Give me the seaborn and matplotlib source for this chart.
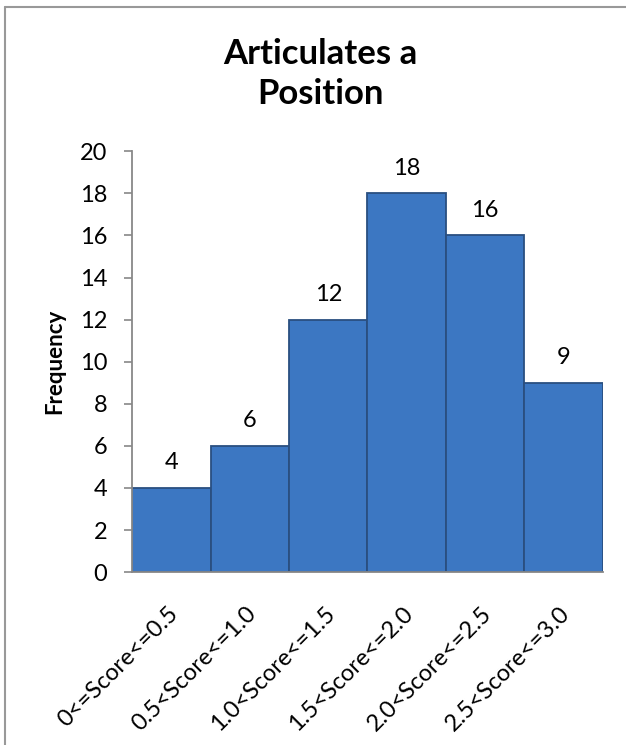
import matplotlib
matplotlib.use("Agg")
import matplotlib.pyplot as plt
import matplotlib.transforms as mtransforms
import seaborn as sns
import pandas as pd
from matplotlib.lines import Line2D

# data
bins = ['0<=Score<=0.5', '0.5<Score<=1.0', '1.0<Score<=1.5',
        '1.5<Score<=2.0', '2.0<Score<=2.5', '2.5<Score<=3.0']
freq = [4, 6, 12, 18, 16, 9]
y_ticks = [0, 2, 4, 6, 8, 10, 12, 14, 16, 18, 20]

df = pd.DataFrame({'bin': bins, 'freq': freq})

sns.set_theme(style='white')
plt.rcParams['font.family'] = ['Lato', 'DejaVu Sans']

fig = plt.figure(figsize=(6.26, 7.45), dpi=100)
ax = fig.add_axes([0.211, 0.232, 0.752, 0.565])

sns.barplot(data=df, x='bin', y='freq', ax=ax, color='#3C77C2',
            width=1.0, edgecolor='#2a4f80', linewidth=1.3, saturation=1)

for i, v in enumerate(freq):
    ax.annotate(str(v), (i, v), xytext=(0, 18), textcoords='offset points',
                ha='center', va='center', fontsize=17, color='black')

ax.set_ylim(0, 20)
ax.set_xlim(-0.5, len(bins) - 0.5)
ax.set_yticks(y_ticks)
ax.tick_params(axis='y', labelsize=17, length=6, width=1.2, color='#888888',
               left=True, pad=12, labelcolor='black')
ax.tick_params(axis='x', labelsize=17, length=0, pad=0, labelcolor='black')
ax.set_xticks(range(len(bins)))
ax.set_xticklabels(bins, rotation=45, ha='right', va='center',
                   rotation_mode='anchor')
shift = mtransforms.ScaledTranslation(0.03, -0.38, fig.dpi_scale_trans)
for lab in ax.get_xticklabels():
    lab.set_transform(lab.get_transform() + shift)
ax.set_xlabel('')
ax.set_ylabel('Frequency', fontsize=16, fontweight='bold', labelpad=10,
              color='black')

for s in ['top', 'right']:
    ax.spines[s].set_visible(False)
for s in ['left', 'bottom']:
    ax.spines[s].set_color('#888888')
    ax.spines[s].set_linewidth(1.3)

fig.text(320 / 626, 1 - 74 / 745, 'Articulates a\nPosition', ha='center',
         va='center', fontsize=25, fontweight='bold', linespacing=1.3,
         color='black')

# chart area border (left and top edges)
fig.add_artist(Line2D([5 / 626, 5 / 626], [0, 1 - 7 / 745],
                      transform=fig.transFigure, color='#999999', lw=1.5))
fig.add_artist(Line2D([5 / 626, 1], [1 - 7 / 745, 1 - 7 / 745],
                      transform=fig.transFigure, color='#999999', lw=1.5))

fig.savefig('out.png', dpi=100)
